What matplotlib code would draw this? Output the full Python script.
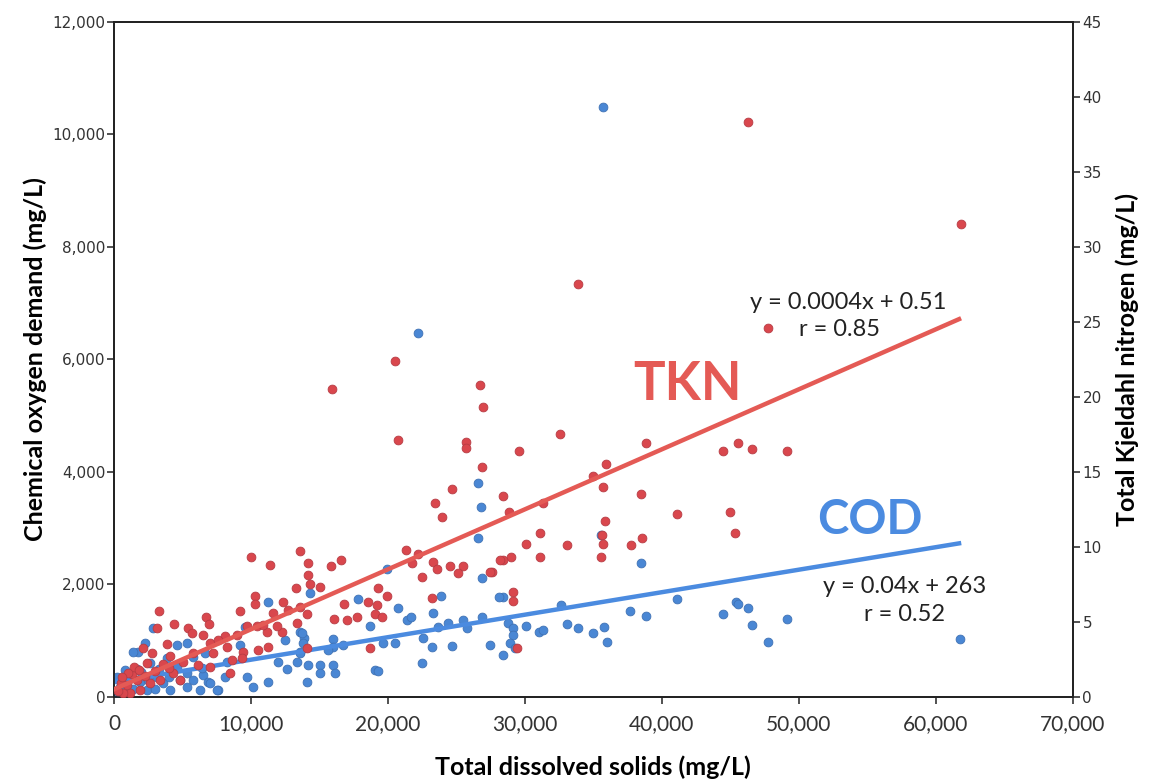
import numpy as np
import matplotlib.pyplot as plt
from matplotlib.ticker import FuncFormatter

# COD (blue, left axis)
tds_cod = [35700, 22170, 26600, 26790, 26590, 35550, 38470, 41120, 28420, 32610, 37670, 38840,
           28780, 29150, 29150, 30120, 31050, 31340, 33050, 33900, 34990, 35770, 35970, 28910,
           27450, 28420, 29270, 44430, 45450, 45580, 46300, 46620, 49150, 47760, 61800,
           26900, 19910, 23870, 17840, 20760, 14310, 23310, 21360, 21680, 18690, 26900, 28130,
           23680, 24400, 25500, 25750, 19610, 20510, 22580, 23190, 24650, 16740, 15960, 15960,
           13870, 15640, 14180, 15040, 16010, 16130, 15040, 14070, 19050, 19290, 22460, 13580,
           13580, 11260, 9560, 9200, 12480, 13700, 13820, 13580, 11990, 12610, 13340, 9690,
           10170, 11260, 7610, 6520, 6880, 8100, 6400, 2260, 1770, 800, 4580, 2870, 3850, 4580,
           5310, 5790, 7010, 3120, 3600, 4090, 1900, 2390, 1170, 5310, 6280, 200, 440, 1410,
           7490, 5790, 6640, 8230, 5310, 100, 300, 600, 1000, 1400, 1700, 2000, 2600, 3300,
           4000, 4800, 2500, 3000]
cod = [10490, 6470, 3810, 3384, 2822, 2880, 2377, 1737, 1783, 1636, 1529, 1440,
       1310, 1221, 1102, 1262, 1161, 1191, 1298, 1221, 1143, 1250, 983, 955,
       925, 747, 866, 1470, 1695, 1654, 1577, 1280, 1381, 983, 1026,
       2110, 2270, 1796, 1737, 1577, 1844, 1488, 1369, 1428, 1262, 1428, 1783,
       1250, 1310, 1369, 1221, 965, 955, 1044, 894, 907, 925, 1026, 894,
       1044, 836, 569, 569, 569, 421, 421, 272, 480, 468, 610, 1161,
       805, 1695, 1250, 925, 1013, 1132, 955, 777, 628, 492, 628, 361,
       183, 272, 124, 391, 272, 361, 510, 955, 805, 480, 925, 1221, 688, 539,
       421, 302, 244, 361, 244, 124, 272, 124, 124, 183, 124, 361, 183, 805,
       124, 717, 777, 628, 955, 50, 100, 250, 300, 150, 500, 450, 600, 500,
       350, 300, 300, 150]

# TKN (red, right axis)
tds_tkn = [46280, 61830, 33870, 47740, 20510, 15890, 26720, 26910, 20760, 25700, 25700, 26840,
           24650, 32580, 29590, 38840, 35940, 34990, 35720, 38470, 28420, 28860, 31340, 41120,
           35870, 31100, 30080, 33050, 35600, 35720, 38520, 37720, 31100, 28960, 28370, 35550,
           27570, 29150, 29150, 29400, 44430, 45580, 46620, 49150, 44970, 45330,
           23430, 23920, 21290, 22220, 21730, 23310, 23560, 24530, 25500, 25140, 27450, 22460,
           13580, 14180, 14180, 14310, 15040, 15820, 16550, 19290, 19950, 16790, 18560, 19170,
           19050, 19540, 17760, 16990, 16060, 23190, 14070, 13580, 18690, 14070, 28180,
           9980, 11390, 13260, 3285, 4400, 5420, 6690, 6960, 10290, 10290, 9200, 12320, 3120,
           12240, 13340, 3850, 5670, 6520, 7010, 8100, 8230, 10420, 11150, 11880, 9690, 8960,
           7610, 5790, 5060, 4090, 2750, 2390, 2140, 2990, 1660, 930, 1170, 680, 1900, 2630,
           3360, 4330, 4820, 6150, 7250, 8590, 9440, 8470, 7010, 11630, 12720, 10900, 10540,
           9320, 11260, 300, 500, 1300, 1500, 1800, 2300, 3600, 4000, 1000, 600]
tkn = [38.3, 31.5, 27.5, 24.6, 22.4, 20.5, 20.8, 19.3, 17.1, 17.0, 16.6, 15.35,
       13.85, 17.5, 16.4, 16.95, 15.5, 14.7, 14.0, 13.5, 13.4, 12.35, 12.9, 12.2,
       11.7, 10.9, 10.2, 10.1, 10.8, 10.2, 10.6, 10.1, 9.3, 9.3, 9.1, 9.35,
       8.3, 7.0, 6.4, 3.25, 16.4, 16.9, 16.5, 16.4, 12.3, 10.9,
       12.95, 12.0, 9.8, 9.5, 8.9, 9.0, 8.5, 8.7, 8.7, 8.25, 8.35, 8.0,
       9.7, 8.9, 8.1, 7.5, 7.35, 8.7, 9.1, 7.25, 6.7, 6.2, 6.3, 6.1,
       5.5, 5.35, 5.3, 5.1, 5.2, 6.6, 5.5, 6.0, 3.25, 3.25, 9.1,
       9.35, 8.8, 7.25, 5.7, 4.85, 4.6, 5.35, 4.87, 6.7, 6.2, 5.7, 6.3, 4.6,
       4.35, 4.9, 3.5, 4.25, 4.1, 3.6, 4.07, 3.35, 4.7, 4.35, 4.7, 4.7, 4.13,
       3.8, 2.9, 2.35, 2.7, 2.9, 2.25, 3.25, 1.7, 1.13, 0.8, 0.25, 0.25, 0.47, 0.9,
       1.13, 1.58, 1.13, 2.13, 2.9, 2.47, 3.0, 1.58, 2.0, 5.6, 5.8, 4.8, 3.13,
       2.58, 3.35, 0.4, 0.9, 1.5, 2.0, 1.8, 1.4, 2.2, 1.9, 1.6, 1.3]

# fitted lines, as printed on the chart
cod_slope, cod_int = 0.04, 263
tkn_slope, tkn_int = 0.0004, 0.51
fit_x = np.array([0, 61700])

blue = '#4a87d4'
red = '#d9474d'
blue_line = '#4b8be0'
red_line = '#e45a55'

plt.rcParams['font.family'] = ['Lato', 'DejaVu Sans']

fig = plt.figure(figsize=(11.51, 7.82), dpi=100)
ax1 = fig.add_axes([0.099, 0.1087, 0.833, 0.8632])
ax2 = ax1.twinx()

ax1.scatter(tds_cod, cod, s=40, color=blue, edgecolors='#3f72b5', linewidths=0.6, zorder=3)
ax1.plot(fit_x, cod_slope * fit_x + cod_int, color=blue_line, lw=3.2, zorder=4)

ax2.scatter(tds_tkn, tkn, s=40, color=red, edgecolors='#b73c44', linewidths=0.6, zorder=3)
ax2.plot(fit_x, tkn_slope * fit_x + tkn_int, color=red_line, lw=3.2, zorder=4)

ax1.set_xlim(0, 70000)
ax1.set_ylim(0, 12000)
ax2.set_ylim(0, 45)
ax1.set_xticks(range(0, 70001, 10000))
ax1.set_yticks(range(0, 12001, 2000))
ax2.set_yticks(range(0, 46, 5))

comma = FuncFormatter(lambda v, p: f'{int(v):,}')
ax1.xaxis.set_major_formatter(comma)
ax1.yaxis.set_major_formatter(comma)

for a in (ax1, ax2):
    for sp in a.spines.values():
        sp.set_linewidth(1.3)
        sp.set_color('#222222')
ax1.tick_params(axis='both', length=5, width=1.2, colors='#333333')
ax2.tick_params(axis='y', length=5, width=1.2, colors='#333333', pad=2)
ax1.tick_params(axis='y', pad=1)
ax1.tick_params(axis='x', pad=7, labelsize=15)
for lab in ax1.get_yticklabels() + ax2.get_yticklabels():
    lab.set_family('DejaVu Sans')
    lab.set_fontsize(11)

ax1.set_xlabel('Total dissolved solids (mg/L)', fontsize=18, fontweight='bold', labelpad=16)
ax1.set_ylabel('Chemical oxygen demand (mg/L)', fontsize=18, fontweight='bold', labelpad=4)
ax2.set_ylabel('Total Kjeldahl nitrogen (mg/L)', fontsize=18, fontweight='bold', labelpad=10)

ax1.text(53580, 7005, 'y = 0.0004x + 0.51', fontsize=17, ha='center', va='center', color='#222222')
ax1.text(53000, 6525, 'r = 0.85', fontsize=17, ha='center', va='center', color='#222222')
ax1.text(41900, 5547, 'TKN', fontsize=38, fontweight='bold', ha='center', va='center', color=red_line)
ax1.text(55190, 3147, 'COD', fontsize=34, fontweight='bold', ha='center', va='center', color=blue_line)
ax1.text(57740, 1956, 'y = 0.04x + 263', fontsize=17, ha='center', va='center', color='#222222')
ax1.text(57740, 1458, 'r = 0.52', fontsize=17, ha='center', va='center', color='#222222')

fig.savefig('out.png', dpi=100)
